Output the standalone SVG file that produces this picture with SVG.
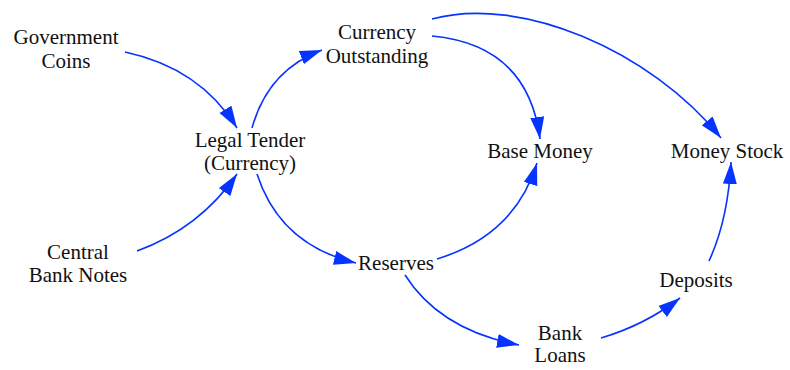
<svg xmlns="http://www.w3.org/2000/svg" width="790" height="370" viewBox="0 0 790 370">
<style>
text{font-family:"Liberation Serif","Times New Roman",serif;font-size:21px;fill:#111;text-anchor:middle}
.c{fill:none;stroke:#0533ff;stroke-width:1.6;marker-end:url(#ah)}
</style>
<defs>
<marker id="ah" markerUnits="userSpaceOnUse" markerWidth="24" markerHeight="16" refX="22" refY="7" orient="auto">
<path d="M0,0 L22,7 L0,14 z" fill="#0533ff"/>
</marker>
</defs>
<rect width="790" height="370" fill="#fff"/>
<g id="connectors">
<path class="c" d="M125,52 Q200,68 237,128"/>
<path class="c" d="M252,128 Q268,70 322,50"/>
<path class="c" d="M137,251 Q200,228 237,174"/>
<path class="c" d="M257,174 Q280,245 356,263"/>
<path class="c" d="M432,36 Q528,45 540,139"/>
<path class="c" d="M432,19 C520,-5 650,50 721,138"/>
<path class="c" d="M437,259 Q515,235 537,163"/>
<path class="c" d="M405,275 Q440,330 519,345"/>
<path class="c" d="M601,338 Q645,325 680,298"/>
<path class="c" d="M709,261 Q728,220 731,162"/>
</g>
<g id="government-coins"><text x="66" y="44">Government</text><text x="66" y="68">Coins</text></g>
<g id="currency-outstanding"><text x="377" y="39">Currency</text><text x="377" y="63">Outstanding</text></g>
<g id="legal-tender"><text x="250" y="147">Legal Tender</text><text x="250" y="170">(Currency)</text></g>
<g id="central-bank-notes"><text x="78" y="259">Central</text><text x="78" y="282">Bank Notes</text></g>
<g id="base-money"><text x="540" y="158">Base Money</text></g>
<g id="money-stock"><text x="727" y="158">Money Stock</text></g>
<g id="reserves"><text x="396" y="270">Reserves</text></g>
<g id="deposits"><text x="696" y="287">Deposits</text></g>
<g id="bank-loans"><text x="560" y="340">Bank</text><text x="560" y="362">Loans</text></g>
</svg>
